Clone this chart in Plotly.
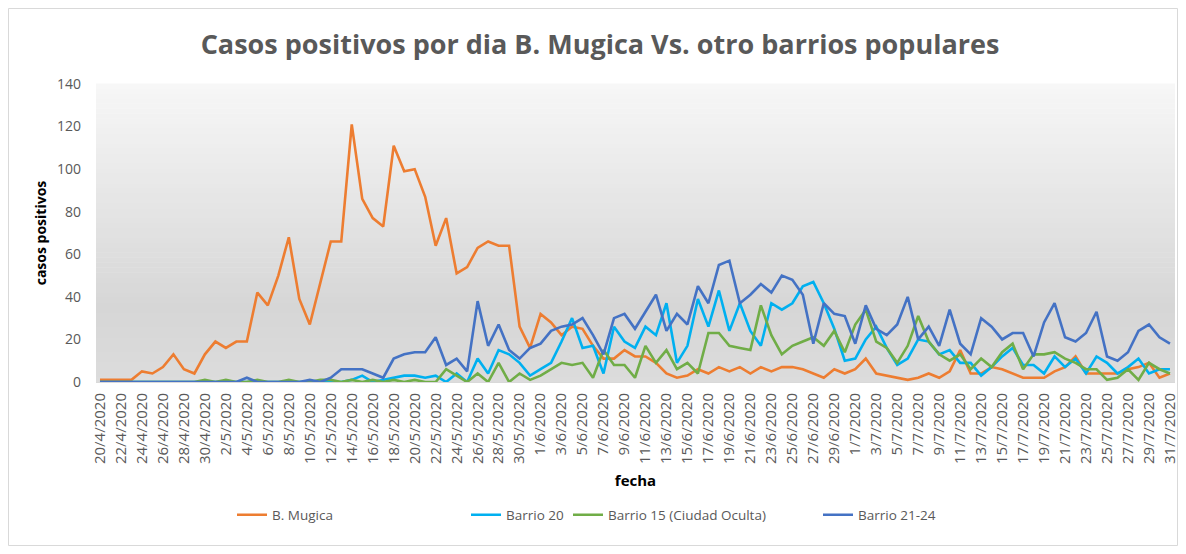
import plotly.graph_objects as go
import pandas as pd

fechas = [f"{d.day}/{d.month}/{d.year}" for d in pd.date_range("2020-04-20", "2020-07-31")]

b_mugica = [1, 1, 1, 1, 5, 4, 7, 13, 6, 4, 13, 19, 16, 19, 19, 42, 36, 50, 68, 39,
            27, 47, 66, 66, 121, 86, 77, 73, 111, 99, 100, 87, 64, 77, 51, 54, 63, 66, 64, 64,
            26, 16, 32, 28, 22, 26, 25, 17, 11, 11, 15, 12, 12, 9, 4, 2, 3, 6, 4, 7,
            5, 7, 4, 7, 5, 7, 7, 6, 4, 2, 6, 4, 6, 11, 4, 3, 2, 1, 2, 4,
            2, 5, 15, 4, 4, 7, 6, 4, 2, 2, 2, 5, 7, 12, 4, 4, 4, 4, 6, 7,
            9, 2, 4]

barrio_20 = [0, 0, 0, 0, 0, 0, 0, 0, 0, 0, 0, 0, 0, 0, 0, 0, 0, 0, 0, 0,
             0, 0, 0, 0, 1, 3, 0, 1, 2, 3, 3, 2, 3, 0, 4, 0, 11, 4, 15, 13,
             9, 3, 6, 9, 19, 30, 16, 17, 4, 26, 19, 16, 26, 22, 37, 9, 17, 39, 26, 43,
             24, 37, 24, 17, 37, 34, 37, 45, 47, 37, 25, 10, 11, 20, 26, 16, 8, 11, 20, 19,
             13, 15, 9, 9, 3, 7, 12, 16, 8, 8, 4, 12, 7, 11, 4, 12, 9, 4, 7, 11,
             4, 6, 6]

barrio_15 = [0, 0, 0, 0, 0, 0, 0, 0, 0, 0, 1, 0, 1, 0, 0, 1, 0, 0, 1, 0,
             0, 1, 1, 0, 1, 0, 1, 0, 1, 0, 1, 0, 0, 6, 3, 0, 4, 0, 9, 0,
             4, 1, 3, 6, 9, 8, 9, 2, 15, 8, 8, 2, 17, 9, 15, 6, 9, 4, 23, 23,
             17, 16, 15, 36, 22, 13, 17, 19, 21, 17, 24, 14, 27, 34, 19, 16, 9, 17, 31, 19,
             13, 10, 13, 6, 11, 7, 14, 18, 6, 13, 13, 14, 11, 9, 6, 6, 1, 2, 6, 1,
             9, 6, 4]

barrio_21_24 = [0, 0, 0, 0, 0, 0, 0, 0, 0, 0, 0, 0, 0, 0, 2, 0, 0, 0, 0, 0,
                1, 0, 2, 6, 6, 6, 4, 2, 11, 13, 14, 14, 21, 8, 11, 5, 38, 17, 27, 15,
                11, 16, 18, 24, 26, 27, 30, 22, 13, 30, 32, 25, 33, 41, 24, 32, 27, 45, 37, 55,
                57, 37, 41, 46, 42, 50, 48, 41, 18, 37, 32, 31, 18, 36, 25, 22, 27, 40, 20, 26,
                17, 34, 18, 13, 30, 26, 20, 23, 23, 12, 28, 37, 21, 19, 23, 33, 12, 10, 14, 24,
                27, 21, 18]

series = [
    ("B. Mugica", b_mugica, "#ED7D31"),
    ("Barrio 20", barrio_20, "#00B0F0"),
    ("Barrio 15 (Ciudad Oculta)", barrio_15, "#70AD47"),
    ("Barrio 21-24", barrio_21_24, "#4472C4"),
]

y_ticks = [0, 20, 40, 60, 80, 100, 120, 140]

FONT = "Open Sans"
GREY = "#595959"

# the page body adds an 8px offset; work in figure coordinates
OFF = 8
W, H = 1170, 538
L, R, T, B = 96 - OFF, 1175 - OFF, 84 - OFF, 382 - OFF

def px_x(p):
    return (p - OFF - L) / (R - L)

def px_y(p):
    return (B - (p - OFF)) / (B - T)

fig = go.Figure()
legend_names = ["legend", "legend2", "legend3", "legend4"]
for (name, vals, color), lg in zip(series, legend_names):
    fig.add_trace(go.Scatter(
        x=fechas, y=vals, name=name, mode="lines",
        line=dict(color=color, width=2.6),
        legend=lg,
    ))

# gradient background bands
def lerp(a, b, t):
    return tuple(round(a[i] + (b[i] - a[i]) * t) for i in range(3))

stops = [(0.0, (220, 220, 220)), (0.25, (214, 214, 214)), (1.0, (247, 247, 247))]
n = 60
shapes = []
for i in range(n):
    y0 = i / n
    y1 = (i + 1) / n
    ym = (y0 + y1) / 2
    for j in range(len(stops) - 1):
        if stops[j][0] <= ym <= stops[j + 1][0]:
            t = (ym - stops[j][0]) / (stops[j + 1][0] - stops[j][0])
            c = lerp(stops[j][1], stops[j + 1][1], t)
            break
    shapes.append(dict(type="rect", xref="x domain", yref="y domain",
                       x0=0, x1=1, y0=y0, y1=y1 + 0.002, layer="below",
                       line=dict(width=0), fillcolor="rgb(%d,%d,%d)" % c))

# outer chart border
shapes.append(dict(type="rect", xref="paper", yref="paper",
                   x0=(0.5 - L) / (R - L), x1=(W - 0.5 - L) / (R - L),
                   y0=(B - (H - 0.5)) / (B - T), y1=(B - 0.5) / (B - T),
                   line=dict(color="#d9d9d9", width=1), fillcolor="rgba(0,0,0,0)"))

fig.update_layout(
    width=W, height=H,
    margin=dict(l=L, r=W - R, t=T, b=H - B, autoexpand=False),
    paper_bgcolor="white",
    plot_bgcolor="rgba(0,0,0,0)",
    shapes=shapes,
    title=dict(text="<b>Casos positivos por dia B. Mugica Vs. otro barrios populares</b>",
               x=(600 - OFF) / W, xanchor="center", y=1 - (45 - OFF) / H, yanchor="middle",
               font=dict(family=FONT, size=27, color=GREY)),
    font=dict(family=FONT, color=GREY),
    showlegend=True,
    xaxis=dict(
        type="category",
        range=[-0.38, 102.48],
        tickmode="array", tickvals=fechas[::2], ticktext=fechas[::2],
        tickangle=-90, tickfont=dict(family=FONT, size=15, color=GREY),
        showgrid=False, zeroline=False,
        showline=True, linecolor="#d9d9d9", linewidth=1,
        ticks="", ticklabelstandoff=4,
        title=dict(text="<b>fecha</b>", font=dict(family=FONT, size=15, color="#000000"), standoff=12),
    ),
    yaxis=dict(
        range=[0, 140], tickvals=y_ticks,
        tickfont=dict(family=FONT, size=14, color=GREY),
        showgrid=False, zeroline=False, showline=False,
        ticks="", ticklabelstandoff=14,
        title=dict(text="<b>casos positivos</b>", font=dict(family=FONT, size=14, color="#000000"), standoff=7),
    ),
)

leg_pos = [232, 466, 568, 818]
for lg, xp in zip(legend_names, leg_pos):
    fig.update_layout({lg: dict(
        x=px_x(xp), xanchor="left", y=px_y(515), yanchor="middle",
        orientation="h", bgcolor="rgba(0,0,0,0)", borderwidth=0,
        font=dict(family=FONT, size=13.5, color=GREY),
        itemwidth=30, tracegroupgap=0,
    )})

fig.write_html("out.html")
